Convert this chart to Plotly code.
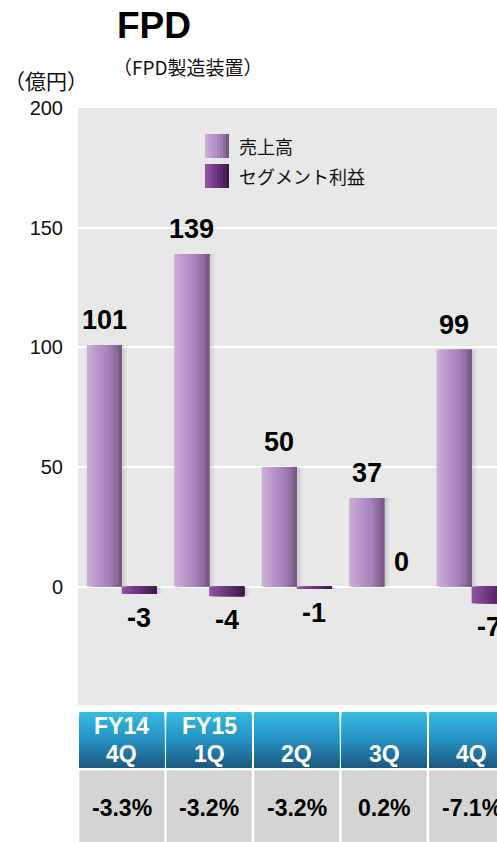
import plotly.graph_objects as go

# ---- data -------------------------------------------------------------
categories = ["FY14 4Q", "FY15 1Q", "FY15 2Q", "FY15 3Q", "FY15 4Q"]
sales = [101, 139, 50, 37, 99]          # 売上高 (億円)
profit = [-3, -4, -1, 0, -7]            # セグメント利益 (億円)
margin_pct = ["-3.3%", "-3.2%", "-3.2%", "0.2%", "-7.1%"]
head_year = ["FY14", "FY15", "", "", ""]
head_quarter = ["4Q", "1Q", "2Q", "3Q", "4Q"]
y_ticks = [0, 50, 100, 150, 200]

# ---- geometry / style -------------------------------------------------
W, H = 497, 842
L, T, B = 78, 108, 137
BAR_W = 0.4
FONT = "Liberation Sans, Arial, Noto Sans CJK JP, sans-serif"
CJK = "Noto Sans CJK JP, Liberation Sans, sans-serif"

idx = list(range(len(categories)))


def xp(px):
    return (px - L) / (W - L)


def yp(py):
    return (H - B - py) / (H - T - B)


def hex_rgb(h):
    h = h.lstrip("#")
    return tuple(int(h[i:i + 2], 16) for i in (0, 2, 4))


def grad(stops, t):
    for (t0, c0), (t1, c1) in zip(stops, stops[1:]):
        if t0 <= t <= t1:
            f = 0 if t1 == t0 else (t - t0) / (t1 - t0)
            a, b = hex_rgb(c0), hex_rgb(c1)
            return "rgb(%d,%d,%d)" % tuple(round(a[i] + (b[i] - a[i]) * f) for i in range(3))
    return stops[-1][1]


SALES_STOPS = [(0, "#caacd7"), (0.35, "#b893ca"), (0.65, "#a57fb8"), (0.88, "#8a6a9b"), (1, "#76597f")]
PROFIT_STOPS = [(0, "#8f52a3"), (0.5, "#6a317b"), (1, "#3c1b47")]
HEAD_STOPS = [(0, "#33badf"), (0.5, "#2690c3"), (1, "#1b5a80")]

fig = go.Figure()

# soft shadows to the right of each bar
for dx, alpha in ((0.06, 0.04), (0.035, 0.06)):
    fig.add_trace(go.Bar(x=idx, y=sales, offset=-BAR_W + dx, width=BAR_W,
                         marker=dict(color=f"rgba(0,0,0,{alpha})", line_width=0),
                         hoverinfo="skip", showlegend=False))
    fig.add_trace(go.Bar(x=idx, y=profit, offset=dx, width=BAR_W,
                         marker=dict(color=f"rgba(0,0,0,{alpha})", line_width=0),
                         hoverinfo="skip", showlegend=False))

# gradient bars: each slice covers from its start to the bar's right edge
N = 16
for series, stops, start, name in ((sales, SALES_STOPS, -BAR_W, "売上高"),
                                   (profit, PROFIT_STOPS, 0.0, "セグメント利益")):
    for k in range(N):
        off = start + k * BAR_W / N
        fig.add_trace(go.Bar(
            x=idx, y=series, offset=off, width=BAR_W - k * BAR_W / N,
            marker=dict(color=grad(stops, k / (N - 1)), line_width=0),
            name=name, showlegend=False,
            hoverinfo="y+name" if k == 0 else "skip",
        ))

annotations = []

# value labels
for i, v in zip(idx, sales):
    annotations.append(dict(x=i - BAR_W / 2, y=v, xref="x", yref="y", text=str(v),
                            showarrow=False, yanchor="bottom", yshift=8,
                            font=dict(family=FONT, size=27, color="#000000", weight="bold")))
for i, v in zip(idx, profit):
    annotations.append(dict(x=i + BAR_W / 2, y=v, xref="x", yref="y", text=str(v),
                            showarrow=False,
                            yanchor="bottom" if v >= 0 else "top",
                            yshift=8 if v >= 0 else -7,
                            font=dict(family=FONT, size=27, color="#000000", weight="bold")))

# titles
annotations += [
    dict(x=xp(115), y=yp(25), xref="paper", yref="paper", text="<b>FPD</b>",
         xanchor="left", yanchor="middle", showarrow=False,
         font=dict(family=FONT, size=37, color="#000000")),
    dict(x=xp(188), y=yp(67), xref="paper", yref="paper", text="（FPD製造装置）",
         xanchor="center", yanchor="middle", showarrow=False,
         font=dict(family=CJK, size=19, color="#111111")),
    dict(x=xp(46), y=yp(80), xref="paper", yref="paper", text="（億円）",
         xanchor="center", yanchor="middle", showarrow=False,
         font=dict(family=CJK, size=21, color="#111111")),
]

shapes = []

# legend
for (name, stops, cy) in (("売上高", SALES_STOPS, 146), ("セグメント利益", PROFIT_STOPS, 176)):
    n = 8
    for k in range(n):
        x0 = 205 + k * 24 / n
        shapes.append(dict(type="rect", xref="paper", yref="paper",
                           x0=xp(x0), x1=xp(229), y0=yp(cy + 12), y1=yp(cy - 12),
                           fillcolor=grad(stops, k / (n - 1)), line_width=0, layer="above"))
    annotations.append(dict(x=xp(237), y=yp(cy), xref="paper", yref="paper", text=name,
                            xanchor="left", yanchor="middle", showarrow=False,
                            font=dict(family=CJK, size=18, color="#111111")))

# table under the chart: header with quarter, row with profit margin
GAP = 0.015
HEAD_TOP, HEAD_BOT, ROW_TOP = 712, 768, 770.5
strips = 28
for i in idx:
    x0, x1 = i - 0.5 + GAP, i + 0.5 - GAP
    for k in range(strips):
        y_top = HEAD_TOP + k * (HEAD_BOT - HEAD_TOP) / strips
        shapes.append(dict(type="rect", xref="x", yref="paper", x0=x0, x1=x1,
                           y0=yp(HEAD_BOT), y1=yp(y_top),
                           fillcolor=grad(HEAD_STOPS, k / (strips - 1)), line_width=0,
                           layer="above"))
    shapes.append(dict(type="rect", xref="x", yref="paper", x0=x0, x1=x1,
                       y0=yp(H + 10), y1=yp(ROW_TOP),
                       fillcolor="#d4d4d4", line_width=0, layer="above"))

for i, yr, q, m in zip(idx, head_year, head_quarter, margin_pct):
    if yr:
        annotations.append(dict(x=i, y=yp(726), xref="x", yref="paper", text=yr,
                                showarrow=False, yanchor="middle",
                                font=dict(family=FONT, size=23, color="#ffffff", weight="bold")))
    annotations.append(dict(x=i, y=yp(754), xref="x", yref="paper", text=q,
                            showarrow=False, yanchor="middle",
                            font=dict(family=FONT, size=23, color="#ffffff", weight="bold")))
    annotations.append(dict(x=i, y=yp(808), xref="x", yref="paper", text=m,
                            showarrow=False, yanchor="middle",
                            font=dict(family=FONT, size=23, color="#000000", weight="bold")))

fig.update_layout(
    width=W, height=H,
    margin=dict(l=L, r=0, t=T, b=B, pad=0),
    paper_bgcolor="#ffffff",
    plot_bgcolor="#e8e8e8",
    barmode="overlay",
    showlegend=False,
    annotations=annotations,
    shapes=shapes,
    xaxis=dict(range=[-0.5, 4.29], showticklabels=False, showgrid=False,
               zeroline=False, showline=False, ticks="", fixedrange=True),
    yaxis=dict(range=[-49.5, 200], tickvals=y_ticks, showgrid=True,
               gridcolor="#ffffff", gridwidth=2, zeroline=True,
               zerolinecolor="#ffffff", zerolinewidth=2, showline=False,
               ticks="", ticklabelstandoff=14,
               tickfont=dict(family=FONT, size=20, color="#111111"), fixedrange=True),
)

fig.write_html("out.html", config={"displayModeBar": False})
